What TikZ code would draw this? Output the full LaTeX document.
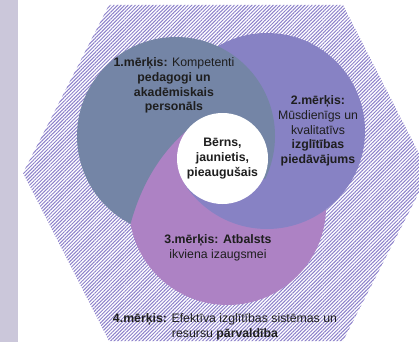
\documentclass[tikz,border=0pt]{standalone}
\usepackage{fontspec}
\setmainfont{Liberation Sans}
\usepackage{xcolor}
\usetikzlibrary{patterns.meta}
\definecolor{Slate}{HTML}{7485A6}
\definecolor{Periwinkle}{HTML}{8782C4}
\definecolor{Orchid}{HTML}{AD82C4}
\definecolor{Lilac}{HTML}{CBC7DA}
\definecolor{Hatch}{HTML}{8C80CA}
\definecolor{Ink}{HTML}{1E1E1E}
\tikzset{
    ring/.style={circle,inner sep=0pt,outer sep=0pt},
    hub/.style={circle,fill=white,minimum size=91pt,inner sep=0pt,align=center,text=Ink,
        font=\bfseries\fontsize{12.3}{14.8}\selectfont},
    goal/.style={align=center,inner sep=0pt,text=Ink,font=\fontsize{12.3}{14.8}\selectfont}
    }

\begin{document}
\begin{tikzpicture}[x=1pt,y=-1pt]
    \useasboundingbox (0,0) rectangle (419,342);

    % background
    \fill[Lilac] (0,0) rectangle (18,342);
    \fill[pattern={Lines[angle=45,distance=2.5pt,line width=1pt]},pattern color=Hatch]
        (23,173) -- (109,5) -- (343,5) -- (429,173) -- (343,341) -- (109,341) -- cycle;

    % rings
    \node[ring,fill=Orchid,minimum size=197pt] (g3) at (227.5,206.5) {};
    \begin{scope}
        \clip (222.5,158.5) -- (183.6,182.5) -- (120,350) -- (430,350) -- (430,-10) -- (160,-10) -- (207,116) -- cycle;
        \node[ring,fill=Periwinkle,minimum size=196pt] (g2) at (267,131) {};
    \end{scope}
    \begin{scope}
        \clip (130.5,224) .. controls (145,170) and (175,135) .. (207,116) -- (222.5,158.5) -- (265,179)
            -- (430,179) -- (430,-10) -- (-10,-10) -- (-10,350) -- (130.5,350) -- cycle;
        \node[ring,fill=Slate,minimum size=198pt] (g1) at (176,136) {};
    \end{scope}
    \node[hub] (hub) at (222.5,158.5) {Bērns,\\jaunietis,\\pieaugušais};

    % labels
    \node[goal] (t1) at (174,85.5) {\textbf{1.mērķis:} Kompetenti\\\textbf{pedagogi un}\\\textbf{akadēmiskais}\\\textbf{personāls}};
    \node[goal] (t2) at (318,131) {\textbf{2.mērķis:}\\Mūsdienīgs un\\kvalitatīvs\\\textbf{izglītības}\\\textbf{piedāvājums}};
    \node[goal] (t3) at (218,248) {\textbf{3.mērķis: Atbalsts}\\ikviena izaugsmei};
    \node[goal] (t4) at (225,327) {\textbf{4.mērķis:} Efektīva izglītības sistēmas un\\resursu \textbf{pārvaldība}};
\end{tikzpicture}
\end{document}
